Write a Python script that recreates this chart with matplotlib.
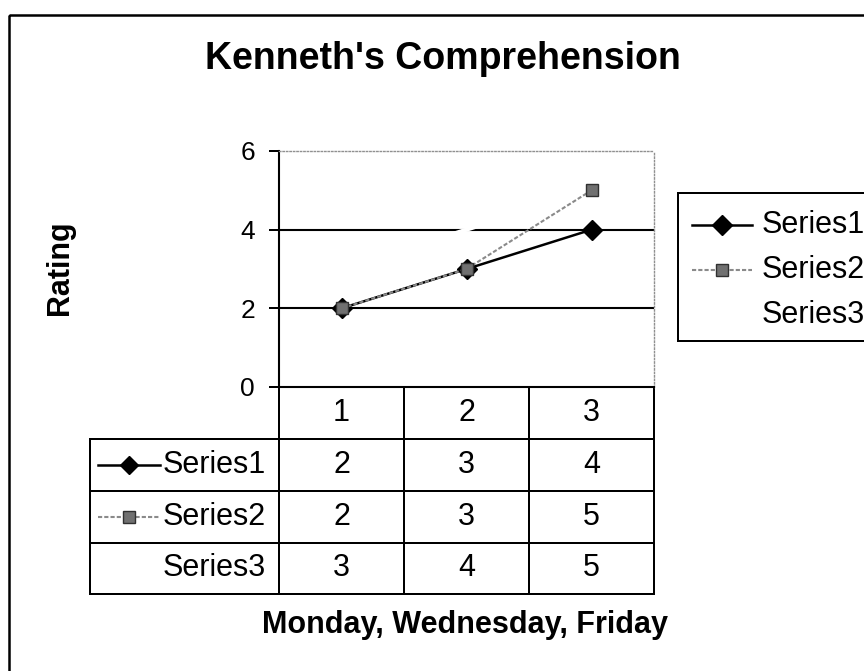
import matplotlib
matplotlib.use('Agg')
import matplotlib.pyplot as plt
from matplotlib.transforms import blended_transform_factory
from matplotlib.lines import Line2D
from matplotlib.patches import Rectangle

plt.rcParams['font.family'] = ['Liberation Sans', 'DejaVu Sans']

# ---------------- data ----------------
title = "Kenneth's Comprehension"
x_label = "Monday, Wednesday, Friday"
y_label = "Rating"
categories = ['1', '2', '3']
series_names = ['Series1', 'Series2', 'Series3']
series1 = [2, 3, 4]
series2 = [2, 3, 5]
series3 = [3, 4, 5]
y_ticks = [0, 2, 4, 6]
series_values = [series1, series2, series3]

# ---------------- styles ----------------
styles = [
    dict(color='black', lw=1.8, marker='D', ms=10, mfc='black', mec='black', zorder=5),
    dict(color='#8a8a8a', lw=1.5, ls=(0, (2, 1)), marker='s', ms=9,
         mfc='#707070', mec='#303030', zorder=6),
    dict(color='white', lw=3.0, marker=None, zorder=4),
]

W, H = 864, 671
fig = plt.figure(figsize=(W / 100, H / 100), dpi=100)
bg = fig.add_axes([0, 0, 1, 1])
bg.set_xlim(0, W)
bg.set_ylim(H, 0)
bg.axis('off')

# figure border
bg.add_patch(Rectangle((9, 15), 950, 750, fill=False, ec='black', lw=1.8))

# plot area (pixels)
L, R, T, B = 279, 654, 151, 387
ax = fig.add_axes([L / W, 1 - B / H, (R - L) / W, (B - T) / H])
ax.patch.set_alpha(0)
xpos = list(range(1, len(categories) + 1))
ax.set_xlim(0.5, len(categories) + 0.5)
ax.set_ylim(y_ticks[0], y_ticks[-1])
ax.set_yticks(y_ticks)
ax.set_yticklabels([str(t) for t in y_ticks])
ax.set_xticks([])
ax.tick_params(axis='y', direction='out', length=7.2, width=1.44, pad=10,
               labelsize=19, colors='black')
for yv in y_ticks[1:-1]:
    ax.axhline(yv, color='black', lw=1.5, zorder=2)
ax.spines['left'].set_linewidth(1.5)
ax.spines['bottom'].set_linewidth(1.5)
for s in ('top', 'right'):
    ax.spines[s].set_color('#909090')
    ax.spines[s].set_linewidth(1.0)
    ax.spines[s].set_linestyle((0, (1, 1.5)))

for vals, st in zip(series_values, styles):
    ax.plot(xpos, vals, clip_on=False, **st)

# ---------------- data table ----------------
tr = blended_transform_factory(ax.transData, bg.transData)
tab_left = 89.6
row_lines = [439, 491, 543, 594]
header_mid = (B + row_lines[0]) / 2
fs_tab = 22

for i in range(len(categories) + 1):
    xe = 0.5 + i
    bg.plot([xe, xe], [B, row_lines[-1]], transform=tr, color='black', lw=1.44)
for yl in row_lines:
    bg.plot([tab_left, R], [yl, yl], color='black', lw=1.44)
bg.plot([tab_left, tab_left], [row_lines[0], row_lines[-1]], color='black', lw=1.44)

for xi, c in zip(xpos, categories):
    bg.text(xi, header_mid, c, transform=tr, ha='center', va='center', fontsize=fs_tab)

for r, (name, vals, st) in enumerate(zip(series_names, series_values, styles)):
    yc = (row_lines[r] + row_lines[r + 1]) / 2
    key = {k: v for k, v in st.items() if k != 'zorder'}
    bg.add_line(Line2D([98, 160], [yc, yc], **{k: v for k, v in key.items()
                                               if k not in ('marker', 'ms', 'mfc', 'mec')}))
    if key.get('marker'):
        bg.add_line(Line2D([129], [yc], ls='none', marker=key['marker'], ms=key['ms'] - 1,
                           mfc=key['mfc'], mec=key['mec']))
    bg.text(266, yc, name, ha='right', va='center', fontsize=fs_tab)
    for xi, v in zip(xpos, vals):
        bg.text(xi, yc, str(v), transform=tr, ha='center', va='center', fontsize=fs_tab)

# ---------------- legend ----------------
bg.add_patch(Rectangle((678, 193), 400, 148, fc='white', ec='black', lw=1.44, zorder=1))
leg_y = [225, 270, 315]
for yc, name, st in zip(leg_y, series_names, styles):
    key = {k: v for k, v in st.items() if k != 'zorder'}
    bg.add_line(Line2D([692, 752], [yc, yc], zorder=3,
                       **{k: v for k, v in key.items() if k not in ('marker', 'ms', 'mfc', 'mec')}))
    if key.get('marker'):
        bg.add_line(Line2D([722], [yc], ls='none', marker=key['marker'], ms=key['ms'],
                           mfc=key['mfc'], mec=key['mec'], zorder=4))
    bg.text(762, yc, name, ha='left', va='center', fontsize=22, zorder=4)

# ---------------- titles ----------------
bg.text(443, 69, title, ha='center', va='baseline', fontsize=27, fontweight='bold')
bg.text(464.5, 633, x_label, ha='center', va='baseline', fontsize=22, fontweight='bold')
bg.text(60, 268, y_label, ha='center', va='center', rotation=90, fontsize=22,
        fontweight='bold')

fig.savefig('out.png', dpi=100)
